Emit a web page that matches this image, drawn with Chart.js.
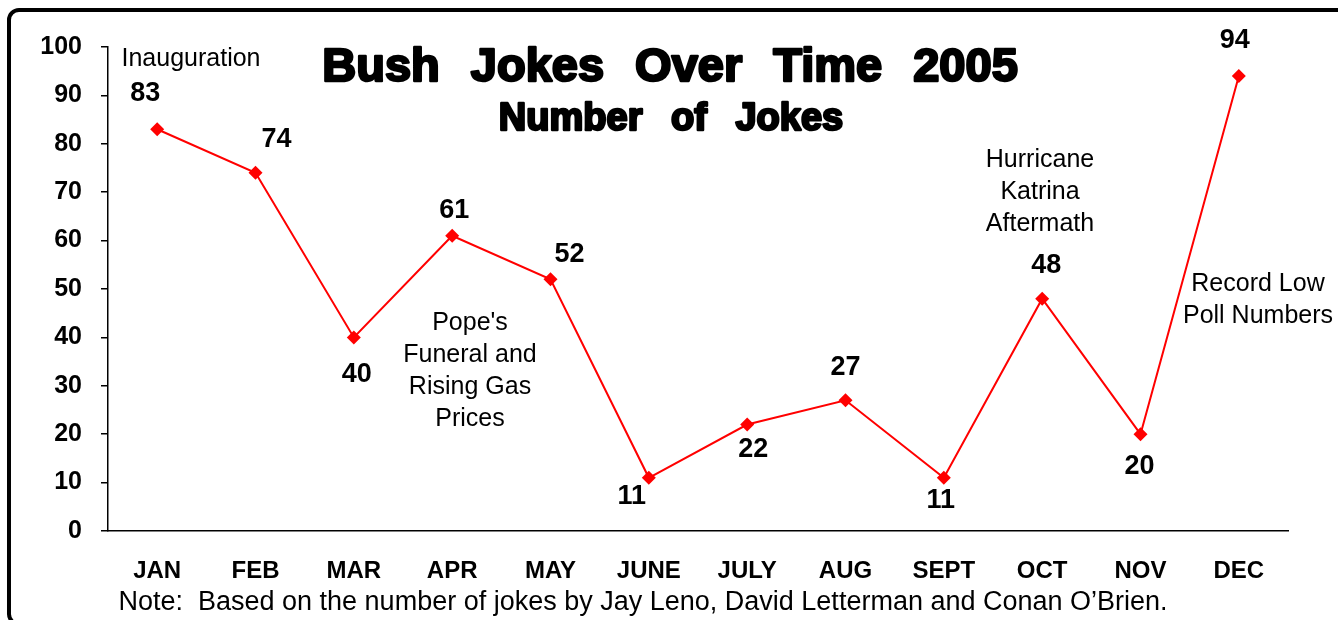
<!DOCTYPE html>
<html lang="en">
<head>
  <meta charset="UTF-8">
  <title>Bush Jokes Over Time 2005</title>
  <style>
    html, body {
      margin: 0;
      padding: 0;
      background: #fff;
    }
    .chart-box {
      position: relative;
      width: 1338px;
      height: 620px;
    }
  </style>
</head>
<body>
  <div class="chart-box">
    <canvas id="jokesChart"></canvas>
  </div>
  <script src="https://cdn.jsdelivr.net/npm/chart.js"></script>
  <script>
    // chart data
    const months = ['JAN', 'FEB', 'MAR', 'APR', 'MAY', 'JUNE', 'JULY', 'AUG', 'SEPT', 'OCT', 'NOV', 'DEC'];
    const jokes = [83, 74, 40, 61, 52, 11, 22, 27, 11, 48, 20, 94];
    const yTicks = [0, 10, 20, 30, 40, 50, 60, 70, 80, 90, 100];

    const titleText = 'Bush Jokes Over Time 2005';
    const subtitleText = 'Number of Jokes';
    const noteText = 'Note:  Based on the number of jokes by Jay Leno, David Letterman and Conan O\u2019Brien.';
    const eventNotes = [
      ['Inauguration'],
      ['Pope\'s', 'Funeral and', 'Rising Gas', 'Prices'],
      ['Hurricane', 'Katrina', 'Aftermath'],
      ['Record Low', 'Poll Numbers']
    ];

    const FONT = "'Liberation Sans', Arial, sans-serif";

    // where each value label sits relative to its point (dx, dy)
    const labelOffsets = [[-12, -36], [21, -33], [3, 37], [2, -25], [19, -25], [-17, 19],
                          [6, 25], [0, -33], [-3, 23], [4, -33], [-1, 32], [-4, -35]];
    // event note centres (x, y of first line)
    const notePos = [[191, 59], [470, 323], [1040, 160], [1258, 284]];

    const framePlugin = {
      id: 'frame',
      beforeDraw(chart) {
        const ctx = chart.ctx;
        ctx.save();
        ctx.fillStyle = '#fff';
        ctx.fillRect(0, 0, chart.width, chart.height);
        ctx.strokeStyle = '#000';
        ctx.lineWidth = 4;
        ctx.beginPath();
        ctx.roundRect(9, 10, 1400, 614, 10);
        ctx.stroke();
        ctx.restore();
      }
    };

    const textPlugin = {
      id: 'texts',
      afterDatasetsDraw(chart) {
        const ctx = chart.ctx;
        const meta = chart.getDatasetMeta(0);
        ctx.save();
        ctx.fillStyle = '#000';
        ctx.textAlign = 'center';
        ctx.textBaseline = 'middle';

        // value labels
        ctx.font = 'bold 27px ' + FONT;
        meta.data.forEach((pt, i) => {
          const off = labelOffsets[i];
          ctx.fillText(String(jokes[i]), pt.x + off[0], pt.y + off[1]);
        });

        // event notes
        ctx.font = '25px ' + FONT;
        eventNotes.forEach((lines, i) => {
          lines.forEach((line, j) => {
            ctx.fillText(line, notePos[i][0], notePos[i][1] + j * 32);
          });
        });

        // title and subtitle, heavy look
        ctx.strokeStyle = '#000';
        ctx.lineJoin = 'round';
        ctx.font = 'bold 47px ' + FONT;
        ctx.wordSpacing = '18px';
        ctx.lineWidth = 2.5;
        ctx.strokeText(titleText, 670, 68);
        ctx.fillText(titleText, 670, 68);
        ctx.font = 'bold 38px ' + FONT;
        ctx.wordSpacing = '18px';
        ctx.strokeText(subtitleText, 671, 120);
        ctx.fillText(subtitleText, 671, 120);
        ctx.wordSpacing = '0px';

        // footnote
        ctx.font = '27px ' + FONT;
        ctx.fillText(noteText, 643, 603);
        ctx.restore();
      }
    };

    new Chart(document.getElementById('jokesChart'), {
      type: 'line',
      data: {
        labels: months,
        datasets: [{
          label: 'Number of Jokes',
          data: jokes,
          borderColor: '#ff0000',
          backgroundColor: '#ff0000',
          borderWidth: 2,
          tension: 0,
          pointStyle: 'rectRot',
          pointRadius: 7,
          pointHoverRadius: 7,
          pointBorderWidth: 0
        }]
      },
      options: {
        responsive: true,
        maintainAspectRatio: false,
        animation: false,
        events: [],
        layout: {
          padding: { top: 47, right: 50, left: 0, bottom: 0 }
        },
        plugins: {
          legend: { display: false },
          title: { display: false },
          tooltip: { enabled: false }
        },
        scales: {
          x: {
            offset: true,
            grid: { display: false, drawTicks: false, tickLength: 0 },
            border: { display: true, color: '#000', width: 1.5 },
            ticks: {
              color: '#000',
              padding: 26,
              maxRotation: 0,
              autoSkip: false,
              font: { family: FONT, size: 24, weight: 'bold' }
            },
            afterFit(scale) { scale.height = 89; }
          },
          y: {
            min: 0,
            max: 100,
            afterBuildTicks(scale) {
              scale.ticks = yTicks.map(v => ({ value: v }));
            },
            grid: {
              display: true,
              drawOnChartArea: false,
              drawTicks: true,
              tickLength: 7,
              color: '#000',
              lineWidth: 1.5
            },
            border: { display: true, color: '#000', width: 1.5 },
            ticks: {
              color: '#000',
              padding: 19,
              font: { family: FONT, size: 25, weight: 'bold' }
            },
            afterFit(scale) { scale.width = 108; }
          }
        }
      },
      plugins: [framePlugin, textPlugin]
    });
  </script>
</body>
</html>
